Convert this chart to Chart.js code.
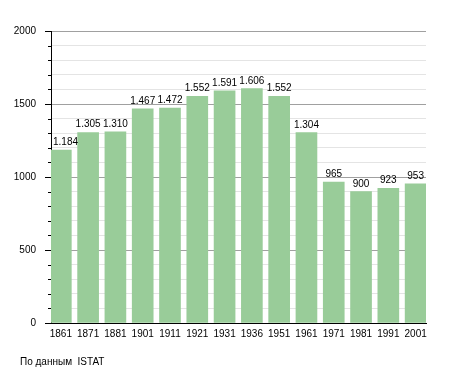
<!DOCTYPE html>
<html>
<head>
<meta charset="utf-8">
<script src="https://cdn.jsdelivr.net/npm/chart.js@4/dist/chart.umd.min.js"></script>
<style>
	body { margin: 0; background: #fff; }
	#wrap { position: relative; width: 455px; height: 373px; }
	#source { position: absolute; left: 20px; top: 356px; font: 10px "Liberation Sans", Arial, sans-serif; color: #000; }
</style>
</head>
<body>
<div id="wrap">
	<canvas id="chart" width="455" height="373"></canvas>
	<div id="source">По данным&nbsp; ISTAT</div>
</div>
<script>
const years = ['1861','1871','1881','1901','1911','1921','1931','1936','1951','1961','1971','1981','1991','2001'];
const population = [1184, 1305, 1310, 1467, 1472, 1552, 1591, 1606, 1552, 1304, 965, 900, 923, 953];
const yTicks = [0, 500, 1000, 1500, 2000];

function fmt(v) {
	// thousands with a dot, as in the source
	return v >= 1000 ? Math.floor(v / 1000) + '.' + String(v % 1000).padStart(3, '0') : String(v);
}

const barLabels = {
	id: 'barLabels',
	afterDraw(chart) {
		const ctx = chart.ctx;
		const meta = chart.getDatasetMeta(0);
		const left = chart.chartArea.left;
		ctx.save();
		ctx.font = '10px "Liberation Sans", Arial, sans-serif';
		ctx.fillStyle = '#000';
		ctx.textBaseline = 'alphabetic';
		meta.data.forEach((bar, i) => {
			const txt = fmt(population[i]);
			const w = ctx.measureText(txt).width;
			// keep the label clear of the y axis
			let x = bar.x - w / 2;
			if (x < left + 2) x = left + 2;
			ctx.textAlign = 'left';
			ctx.fillText(txt, x, bar.y - 5);
		});
		ctx.restore();
	}
};

// major ticks longer than minor ones on the y axis
const yTickMarks = {
	id: 'yTickMarks',
	afterDraw(chart) {
		const ctx = chart.ctx;
		const y = chart.scales.y;
		const left = chart.chartArea.left;
		ctx.save();
		ctx.strokeStyle = '#000';
		ctx.lineWidth = 1;
		y.ticks.forEach(t => {
			const py = Math.round(y.getPixelForValue(t.value)) + 0.5;
			const len = t.value % 500 === 0 ? 6 : 3;
			ctx.beginPath();
			ctx.moveTo(left - len, py);
			ctx.lineTo(left, py);
			ctx.stroke();
		});
		ctx.restore();
	}
};

Chart.defaults.font.family = '"Liberation Sans", Arial, sans-serif';
Chart.defaults.font.size = 10;
Chart.defaults.color = '#000';

new Chart(document.getElementById('chart'), {
	type: 'bar',
	data: {
		datasets: [{
			data: population.map((v, i) => ({ x: i, y: v })),
			backgroundColor: '#99cc99',
			barThickness: 21
		}]
	},
	options: {
		responsive: false,
		animation: false,
		layout: { padding: { left: 0, right: 29, top: 31, bottom: 30 } },
		plugins: { legend: { display: false }, tooltip: { enabled: false } },
		scales: {
			x: {
				type: 'linear',
				min: -0.36,
				max: 13.38,
				offset: false,
				grid: { display: false, drawTicks: false },
				border: { color: '#000', width: 1 },
				ticks: {
					stepSize: 1,
					includeBounds: false,
					padding: 5,
					maxRotation: 0,
					autoSkip: false,
					callback: v => years[v] !== undefined ? years[v] : ''
				},
				afterFit(s) { s.height = 20; }
			},
			y: {
				min: 0,
				max: 2000,
				ticks: {
					stepSize: 100,
					autoSkip: false,
					padding: 15,
					callback: v => yTicks.includes(v) ? v : ''
				},
				grid: {
					color: c => c.tick && c.tick.value % 500 === 0 ? '#a0a0a0' : '#e4e4e4',
					drawTicks: false
				},
				border: { color: '#000', width: 1 },
				afterFit(s) { s.width = 51; }
			}
		}
	},
	plugins: [yTickMarks, barLabels]
});
</script>
</body>
</html>
